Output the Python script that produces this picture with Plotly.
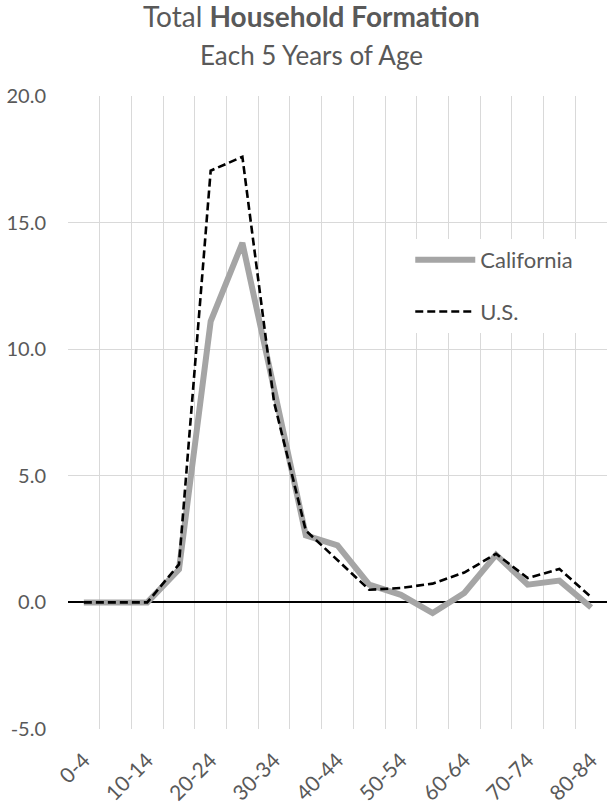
import plotly.graph_objects as go

# Household formation per 5-year age band
age_groups = ["0-4", "5-9", "10-14", "15-19", "20-24", "25-29", "30-34", "35-39",
              "40-44", "45-49", "50-54", "55-59", "60-64", "65-69", "70-74",
              "75-79", "80-84"]
california = [0.0, 0.0, 0.0, 1.3, 11.1, 14.2, 8.4, 2.65, 2.25, 0.7, 0.3, -0.42,
              0.37, 1.88, 0.7, 0.86, -0.2]
united_states = [0.0, 0.0, 0.0, 1.5, 17.05, 17.6, 7.9, 2.84, 1.68, 0.5, 0.57, 0.74,
                 1.18, 1.92, 0.96, 1.32, 0.21]

# every other age band gets a visible label
tick_text = [g if i % 2 == 0 else "" for i, g in enumerate(age_groups)]
y_ticks = [-5, 0, 5, 10, 15, 20]
y_tick_text = ["-5.0", "0.0", "5.0", "10.0", "15.0", "20.0"]

FONT = "Lato, 'Open Sans', sans-serif"
TEXT_GREY = "#595959"

fig = go.Figure()
fig.add_trace(go.Scatter(
    x=age_groups, y=california, name="California", mode="lines",
    legendgroup="ca",
    line=dict(color="#a5a5a5", width=6),
))
fig.add_trace(go.Scatter(
    x=age_groups, y=united_states, name="U.S.", mode="lines",
    legendgroup="us",
    line=dict(color="#000000", width=2.6, dash="8px,4px"),
))

fig.update_layout(
    width=607, height=808,
    margin=dict(l=68, r=0, t=96, b=79, autoexpand=False),
    paper_bgcolor="white", plot_bgcolor="white",
    font=dict(family=FONT, color=TEXT_GREY),
    showlegend=True,
    legend=dict(
        x=0.635, y=0.774, xanchor="left", yanchor="top",
        bgcolor="white", font=dict(size=22, color=TEXT_GREY, family=FONT),
        itemwidth=60, tracegroupgap=20,
    ),
    annotations=[
        dict(text="Total <b>Household Formation</b>", xref="paper", yref="paper",
             x=0.452, y=1.126, xanchor="center", yanchor="middle",
             showarrow=False, font=dict(size=28, color=TEXT_GREY, family=FONT)),
        dict(text="Each 5 Years of Age", xref="paper", yref="paper",
             x=0.452, y=1.064, xanchor="center", yanchor="middle",
             showarrow=False, font=dict(size=26, color=TEXT_GREY, family=FONT)),
    ],
)

fig.update_xaxes(
    type="category", range=[-0.5, len(age_groups) - 0.5],
    tickmode="array", tickvals=age_groups, ticktext=tick_text,
    tickson="boundaries", ticks="", automargin=False,
    showgrid=True, gridcolor="#d9d9d9", gridwidth=1,
    tickangle=-45, tickfont=dict(size=21, color=TEXT_GREY, family=FONT),
    ticklabelstandoff=14,
    showline=False, zeroline=False,
)
fig.update_yaxes(
    range=[-5, 20], tickmode="array", tickvals=y_ticks, ticktext=y_tick_text,
    showgrid=True, gridcolor="#d9d9d9", gridwidth=1,
    zeroline=True, zerolinecolor="#000000", zerolinewidth=2,
    tickfont=dict(size=20, color=TEXT_GREY, family=FONT),
    ticklabelstandoff=21, ticks="", showline=False, automargin=False,
)

fig.write_html("out.html")
